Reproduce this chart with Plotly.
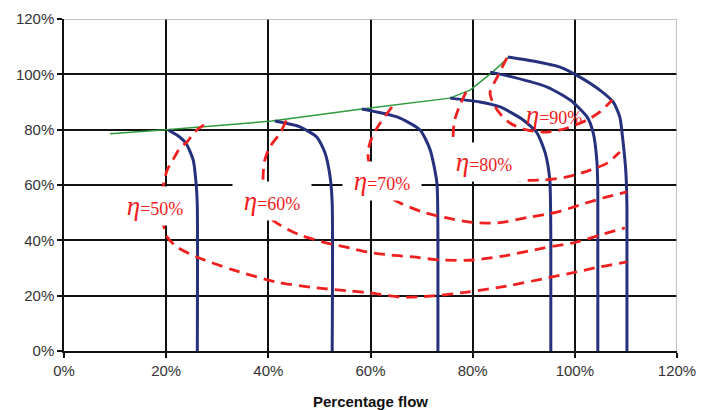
import plotly.graph_objects as go

# ---------------- data (percent) ----------------
green_x = [9.0, 20.0, 40.7, 58.3, 75.5, 79.5, 84.0, 87.0]
green_y = [78.5, 80.0, 83.1, 87.5, 91.4, 94.3, 101.0, 106.2]

pump1_x = [20.5, 22.3, 23.9, 25.3, 25.9, 26.1, 26.1]
pump1_y = [79.8, 77.8, 75.0, 69.0, 59.6, 52.0, 0.0]
pump2_x = [41.3, 46.2, 49.5, 51.1, 52.1, 52.5, 52.5]
pump2_y = [83.1, 81.0, 77.3, 71.6, 62.9, 53.5, 0.0]
pump3_x = [58.3, 65.2, 69.7, 71.7, 73.0, 73.2, 73.2]
pump3_y = [87.5, 84.6, 79.9, 72.6, 60.7, 40.1, 0.0]
pump4_x = [75.6, 81.4, 85.4, 89.9, 92.6, 94.2, 95.1, 95.3, 95.3]
pump4_y = [91.4, 90.0, 88.2, 83.5, 78.8, 71.6, 61.8, 40.1, 0.0]
pump5_x = [83.4, 87.9, 94.6, 99.1, 102.4, 103.6, 104.3, 104.5, 104.5]
pump5_y = [100.8, 99.0, 95.4, 90.7, 84.6, 78.8, 69.0, 58.2, 0.0]
pump6_x = [86.9, 91.8, 97.1, 101.0, 104.9, 107.5, 108.8, 109.4, 110.0, 110.2, 110.2]
pump6_y = [106.3, 104.8, 102.6, 99.0, 94.3, 90.0, 84.6, 76.3, 64.3, 52.0, 0.0]

eff50_x = [27.4, 25.6, 24.1, 22.7, 21.3, 20.2, 19.6, 19.0, 19.4, 20.2, 22.1, 26.0, 33.1, 41.7,
           49.5, 56.0, 59.9, 65.8, 72.2, 78.9, 86.7, 94.6, 100.4, 104.9, 110.2]
eff50_y = [81.7, 79.2, 75.6, 73.4, 69.0, 65.4, 61.1, 54.6, 46.3, 41.2, 37.6, 34.0, 29.3, 24.9,
           22.8, 21.7, 21.0, 19.5, 19.9, 21.3, 23.5, 26.4, 28.6, 30.4, 32.2]
eff60_x = [43.5, 42.3, 40.3, 39.3, 39.0, 39.0, 39.7, 42.3, 46.2, 51.5, 56.0, 59.3, 63.8, 68.3,
           73.6, 80.1, 85.9, 93.8, 100.4, 104.9, 109.8]
eff60_y = [83.3, 78.8, 73.7, 69.0, 64.3, 56.4, 49.2, 45.5, 41.9, 39.0, 37.2, 35.8, 34.7, 34.0,
           32.9, 32.9, 34.3, 37.2, 39.4, 41.9, 44.5]
eff70_x = [64.2, 61.9, 60.3, 59.5, 60.3, 63.2, 65.8, 70.3, 75.0, 79.5, 84.8, 91.2, 96.5, 101.0,
           105.5, 110.2]
eff70_y = [88.2, 82.4, 77.3, 71.6, 63.6, 56.4, 53.5, 50.2, 48.1, 46.6, 46.3, 48.4, 50.2, 52.8,
           55.3, 57.5]
eff80_x = [78.7, 77.5, 76.5, 76.2, 77.5, 81.4, 85.4, 89.3, 93.8, 98.5, 103.0, 106.3, 108.8]
eff80_y = [93.6, 88.9, 83.5, 77.3, 69.0, 64.3, 62.9, 61.8, 61.8, 62.9, 65.4, 67.9, 71.9]
eff90_x = [86.7, 84.8, 83.4, 84.8, 87.3, 90.6, 94.6, 98.5, 102.4, 104.9, 107.3]
eff90_y = [105.9, 99.0, 93.2, 87.1, 82.4, 79.9, 79.1, 80.6, 83.5, 86.4, 90.7]

label_names = ["50%", "60%", "70%", "80%", "90%"]
label_x = [17.8, 40.7, 62.3, 82.2, 95.9]
label_y = [52.3, 54.2, 61.4, 68.3, 85.3]
label_boxed = [True, True, True, True, False]

tick_vals = [0, 20, 40, 60, 80, 100, 120]
tick_text = ["0%", "20%", "40%", "60%", "80%", "100%", "120%"]

# ---------------- styling ----------------
BLUE = "#26317e"
RED = "#f02020"
GREEN = "#2e9a3c"

fig = go.Figure()
fig.add_trace(go.Scatter(x=green_x, y=green_y, mode="lines",
                         line=dict(color=GREEN, width=1.5), hoverinfo="skip"))
for px, py in [(pump1_x, pump1_y), (pump2_x, pump2_y), (pump3_x, pump3_y),
               (pump4_x, pump4_y), (pump5_x, pump5_y), (pump6_x, pump6_y)]:
    fig.add_trace(go.Scatter(x=px, y=py, mode="lines",
                             line=dict(color=BLUE, width=3, shape="spline", smoothing=0.6)))
for ex, ey in [(eff50_x, eff50_y), (eff60_x, eff60_y), (eff70_x, eff70_y),
               (eff80_x, eff80_y), (eff90_x, eff90_y)]:
    fig.add_trace(go.Scatter(x=ex, y=ey, mode="lines",
                             line=dict(color=RED, width=2.8, dash="11px,7px",
                                       shape="spline", smoothing=0.8)))

for name, lx, ly, boxed in zip(label_names, label_x, label_y, label_boxed):
    fig.add_annotation(
        x=lx, y=ly, xref="x", yref="y", showarrow=False,
        text=("<span style='font-size:27px;font-style:italic'>η</span>"
              "<span style='font-size:18px'>=" + name + "</span>"),
        font=dict(family="Liberation Serif, Times New Roman, serif", color=RED),
        bgcolor="white" if boxed else "rgba(0,0,0,0)",
        width=70, height=30, borderpad=4, align="center", valign="middle",
    )

# light grey border lines at 120 %
fig.add_shape(type="line", x0=0, x1=120, y0=120, y1=120, xref="x", yref="y",
              line=dict(color="#b0b0b0", width=1.5))
fig.add_shape(type="line", x0=120, x1=120, y0=0, y1=120, xref="x", yref="y",
              line=dict(color="#b0b0b0", width=1.5))

axis_common = dict(
    range=[0, 120], tickvals=tick_vals, ticktext=tick_text,
    showgrid=True, gridcolor="#111111", gridwidth=1.5,
    showline=True, linecolor="#111111", linewidth=1.5,
    ticks="outside", ticklen=5, tickwidth=1.5, tickcolor="#111111",
    zeroline=False, automargin=False,
    tickfont=dict(family="Liberation Sans, Arial, sans-serif", size=15, color="#333333"),
)
fig.update_xaxes(**axis_common,
                 title=dict(text="<b>Percentage flow</b>", standoff=22,
                            font=dict(family="Liberation Sans, Arial, sans-serif",
                                      size=15, color="#111111")))
fig.update_yaxes(**axis_common)

# page body has an 8px margin, so the figure is 702x402 to fit the 710x410 window
fig.update_layout(
    width=702, height=402,
    margin=dict(l=56, r=33, t=11, b=59),
    plot_bgcolor="white", paper_bgcolor="white",
    showlegend=False,
)

fig.write_html("out.html")
